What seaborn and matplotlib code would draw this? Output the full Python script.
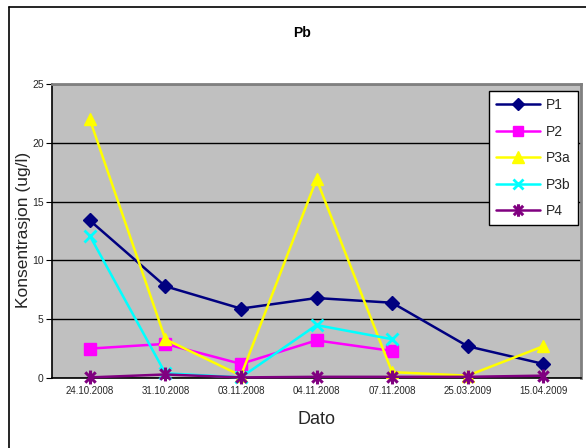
import numpy as np
import pandas as pd
import seaborn as sns
import matplotlib
matplotlib.use("Agg")
import matplotlib.pyplot as plt
from matplotlib.lines import Line2D
from matplotlib.path import Path

dates = ["24.10.2008", "31.10.2008", "03.11.2008", "04.11.2008",
         "07.11.2008", "25.03.2009", "15.04.2009"]
series_names = ["P1", "P2", "P3a", "P3b", "P4"]
p1 = [13.4, 7.8, 5.9, 6.8, 6.4, 2.7, 1.2]
p2 = [2.5, 2.9, 1.2, 3.2, 2.3, np.nan, np.nan]
p3a = [22.0, 3.3, 0.2, 16.9, 0.5, 0.2, 2.7]
p3b = [12.1, 0.4, 0.05, 4.5, 3.3, np.nan, np.nan]
p4 = [0.05, 0.3, 0.05, 0.1, 0.1, 0.1, 0.2]
y_ticks = [0, 5, 10, 15, 20, 25]

values = dict(zip(series_names, [p1, p2, p3a, p3b, p4]))
rows = []
for name, vals in values.items():
    for i, v in enumerate(vals):
        rows.append({"pos": i, "Dato": dates[i], "Serie": name, "Konsentrasjon": v})
df = pd.DataFrame(rows).dropna()

# asterisk marker: an X crossed by a vertical bar
d = 0.75
star = Path([(-d, -d), (d, d), (-d, d), (d, -d), (0, -1), (0, 1)],
            [Path.MOVETO, Path.LINETO, Path.MOVETO, Path.LINETO, Path.MOVETO, Path.LINETO])

colors = {"P1": "#000080", "P2": "#FF00FF", "P3a": "#FFFF00",
          "P3b": "#00FFFF", "P4": "#800080"}
markers = {"P1": "D", "P2": "s", "P3a": "^", "P3b": "x", "P4": star}
msizes = {"P1": 7.5, "P2": 8, "P3a": 9, "P3b": 8, "P4": 10}
medge = {"P1": 1.0, "P2": 1.0, "P3a": 1.0, "P3b": 2.0, "P4": 2.2}

sns.set_style("white")
plt.rcParams["font.family"] = ["Liberation Sans", "DejaVu Sans"]

fig = plt.figure(figsize=(5.86, 4.48), dpi=100)
ax = fig.add_axes([52 / 586, 1 - 378 / 448, 529 / 586, 294 / 448])
ax.set_facecolor("#C0C0C0")

for name in series_names:
    sub = df[df["Serie"] == name]
    sns.lineplot(data=sub, x="pos", y="Konsentrasjon", ax=ax, color=colors[name],
                 marker=markers[name], markersize=msizes[name], linewidth=1.8,
                 markeredgecolor=colors[name], markeredgewidth=medge[name],
                 label=name, clip_on=False, zorder=3)

ax.set_xlim(-0.5, 6.5)
ax.set_ylim(0, 25)
ax.set_yticks(y_ticks)
ax.set_yticklabels([str(t) for t in y_ticks], fontsize=7.5)
ax.yaxis.grid(True, color="black", linewidth=1.0)
ax.set_axisbelow(True)

ax.set_xticks(range(len(dates)))
ax.set_xticklabels(dates, fontsize=7)
ax.set_xticks(np.arange(-0.5, 7.0, 1.0), minor=True)
ax.tick_params(axis="x", which="major", length=0, pad=6)
ax.tick_params(axis="x", which="minor", length=4, width=0.8, color="black", direction="out")
ax.tick_params(axis="y", length=4, width=0.8, color="black", direction="out", left=True, pad=2)

for side in ("left", "bottom"):
    ax.spines[side].set_color("black")
    ax.spines[side].set_linewidth(1.2)
for side in ("top", "right"):
    ax.spines[side].set_color("#808080")
    ax.spines[side].set_linewidth(2.0)

ax.set_xlabel("Dato", fontsize=13)
ax.xaxis.set_label_coords(0.5, -0.112)
ax.set_ylabel("Konsentrasjon (ug/l)", fontsize=12.5)
ax.yaxis.set_label_coords((31 - 52) / 529, 0.503)

handles = [Line2D([], [], color=colors[n], marker=markers[n], markersize=msizes[n] - 1,
                  linewidth=1.8, markeredgewidth=medge[n])
           for n in series_names]
leg = ax.legend(handles, series_names, loc="upper left", bbox_to_anchor=(0.826, 0.975),
                frameon=True, fancybox=False, edgecolor="black", facecolor="white",
                framealpha=1, fontsize=10, handlelength=3.2, labelspacing=0.9,
                borderpad=0.5, handletextpad=0.4, borderaxespad=0)
leg.get_frame().set_linewidth(1.0)

fig.text(302 / 586, 1 - 33 / 448, "Pb", fontsize=10, fontweight="bold",
         ha="center", va="center", color="black")

# chart frame
fig.add_artist(Line2D([9.5 / 586, 9.5 / 586], [0, 1 - 7 / 448], color="black", linewidth=1.2,
                      transform=fig.transFigure))
fig.add_artist(Line2D([9.5 / 586, 1], [1 - 7 / 448, 1 - 7 / 448], color="black", linewidth=1.2,
                      transform=fig.transFigure))

fig.savefig("out.png", dpi=100)
